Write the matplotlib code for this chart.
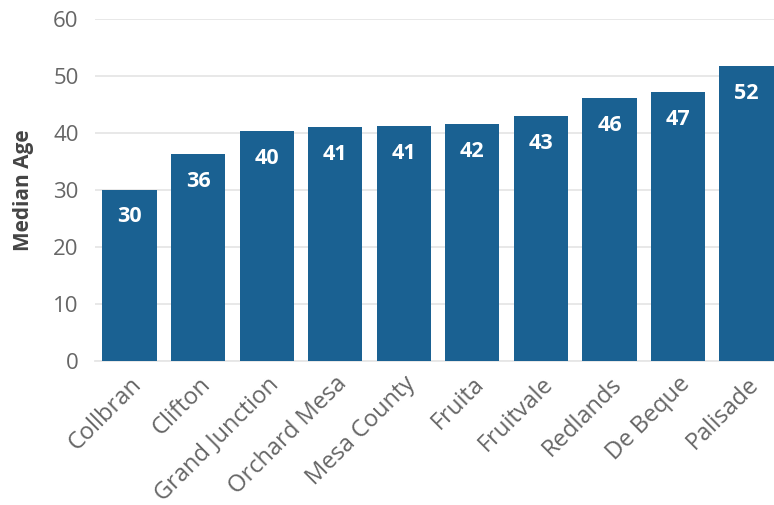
import matplotlib.pyplot as plt

places = ['Collbran', 'Clifton', 'Grand Junction', 'Orchard Mesa', 'Mesa County',
          'Fruita', 'Fruitvale', 'Redlands', 'De Beque', 'Palisade']
median_age = [30.1, 36.3, 40.3, 41.1, 41.2, 41.6, 43.0, 46.1, 47.2, 51.8]
y_ticks = [0, 10, 20, 30, 40, 50, 60]

plt.rcParams['font.family'] = ['Open Sans', 'DejaVu Sans']

fig = plt.figure(figsize=(7.74, 5.05), dpi=100)
ax = fig.add_axes([0.123, 0.285, 0.877, 0.677])

x = range(len(places))
bars = ax.bar(x, median_age, width=0.79, color='#1a6192', zorder=3)
for b, v in zip(bars, median_age):
    ax.annotate(f'{v:.0f}', (b.get_x() + b.get_width() / 2, v),
                xytext=(0, -12), textcoords='offset points',
                ha='center', va='top', color='white', fontsize=15.5, fontweight='bold')

ax.set_xlim(-0.5, len(places) - 0.6)
ax.set_ylim(0, 60)
ax.set_yticks(y_ticks)
ax.set_xticks(list(x))
ax.set_xticklabels(places, rotation=45, ha='right', rotation_mode='anchor')
ax.tick_params(axis='both', length=0, labelsize=16, colors='#666666')
ax.tick_params(axis='x', pad=8, labelsize=17)
ax.tick_params(axis='y', pad=12)
ax.yaxis.grid(True, color='#e6e6e6', linewidth=1.3, zorder=0)
for s in ['top', 'right', 'left']:
    ax.spines[s].set_visible(False)
ax.spines['bottom'].set_color('#e6e6e6')
ax.spines['bottom'].set_linewidth(1.3)
ax.set_ylabel('Median Age', fontsize=15, fontweight='bold', color='#444444', labelpad=14)

fig.savefig('out.png', dpi=100)
